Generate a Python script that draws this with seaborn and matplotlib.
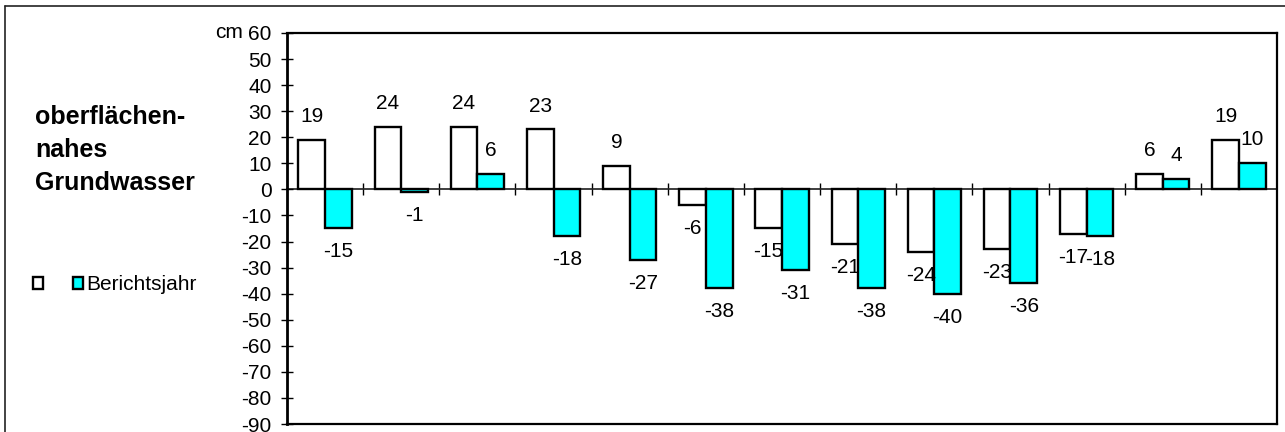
import numpy as np
import pandas as pd
import matplotlib
matplotlib.use("Agg")
import matplotlib.pyplot as plt
import seaborn as sns
from matplotlib.patches import Patch
from matplotlib.lines import Line2D

# ---- data ----
categories = ["1", "2", "3", "4", "5", "6", "7", "8", "9", "10", "11", "12", "13"]
series_names = ["Vergleich", "Berichtsjahr"]
legend_labels = ["", "Berichtsjahr"]
values_reference = [19, 24, 24, 23, 9, -6, -15, -21, -24, -23, -17, 6, 19]
values_report_year = [-15, -1, 6, -18, -27, -38, -31, -38, -40, -36, -18, 4, 10]
y_ticks = list(range(-90, 61, 10))
title_text = "oberflächen-\nnahes\nGrundwasser"
unit_text = "cm"

df = pd.DataFrame({
    "Kategorie": categories * 2,
    "Reihe": [series_names[0]] * len(categories) + [series_names[1]] * len(categories),
    "Wert": values_reference + values_report_year,
})

sns.set_theme(style="white")
plt.rcParams["font.family"] = ["Liberation Sans", "DejaVu Sans"]
plt.rcParams["axes.unicode_minus"] = False
plt.rcParams["text.color"] = "black"
plt.rcParams["axes.labelcolor"] = "black"
plt.rcParams["xtick.color"] = "black"
plt.rcParams["ytick.color"] = "black"

FS = 15
W, H = 1285, 432
fig = plt.figure(figsize=(W / 100, H / 100), dpi=100)
ax = fig.add_axes([287 / W, 1 - 424 / H, (1277 - 287) / W, (424 - 33) / H])

colors = ["#FFFFFF", "#00FFFF"]
sns.barplot(data=df, x="Kategorie", y="Wert", hue="Reihe", hue_order=series_names,
            palette=colors, saturation=1, width=0.7, edgecolor="black", linewidth=1.7,
            errorbar=None, legend=False, ax=ax)

ax.set_ylim(y_ticks[0], y_ticks[-1])
ax.set_xlim(-0.5, len(categories) - 0.5)
ax.set_yticks(y_ticks)
ax.set_xticks([])
ax.set_xlabel("")
ax.set_ylabel("")
ax.tick_params(axis="y", direction="inout", length=9, width=1, labelsize=FS, pad=6.5,
               left=True, colors="black")
for side, sp in ax.spines.items():
    sp.set_visible(True)
    sp.set_color("black")
    sp.set_linewidth(1.6)
ax.spines["left"].set_linewidth(2.0)

# zero line with group separator ticks
zero_frac = -y_ticks[0] / (y_ticks[-1] - y_ticks[0])
sec = ax.secondary_xaxis(zero_frac)
sec.set_xticks(np.arange(0.5, len(categories) - 1, 1.0))
sec.set_xticklabels([])
sec.tick_params(direction="inout", length=9, width=1, colors="black")
sec.spines["bottom"].set_linewidth(1.0)
sec.spines["bottom"].set_color("black")

# data labels
for cont in ax.containers:
    ax.bar_label(cont, fmt="%.0f", padding=10, fontsize=FS, color="black")

# unit label
ax.annotate(unit_text, xy=(0, y_ticks[-1]), xycoords=("axes fraction", "data"),
            xytext=(-32, 0), textcoords="offset points", ha="right", va="center",
            fontsize=FS)

# title on the left
fig.text(35 / W, 1 - 150 / H, title_text, fontsize=18, fontweight="bold",
         ha="left", va="center", linespacing=1.45, color="black")

# legend
handles = [Patch(facecolor=c, edgecolor="black", linewidth=1.7) for c in colors]
fig.legend(handles=handles, labels=legend_labels, ncol=2, loc="center left",
           bbox_to_anchor=(33 / W, 1 - 285 / H), frameon=False, fontsize=FS,
           handlelength=0.5, handleheight=0.5, handletextpad=0.12, columnspacing=1.3,
           borderpad=0, borderaxespad=0)

# outer frame (top and left)
fig.add_artist(Line2D([5 / W, 1], [1 - 6 / H] * 2, transform=fig.transFigure,
                      color="#222222", lw=1.2))
fig.add_artist(Line2D([5 / W] * 2, [0, 1 - 6 / H], transform=fig.transFigure,
                      color="#222222", lw=1.2))

fig.savefig("out.png", dpi=100)
